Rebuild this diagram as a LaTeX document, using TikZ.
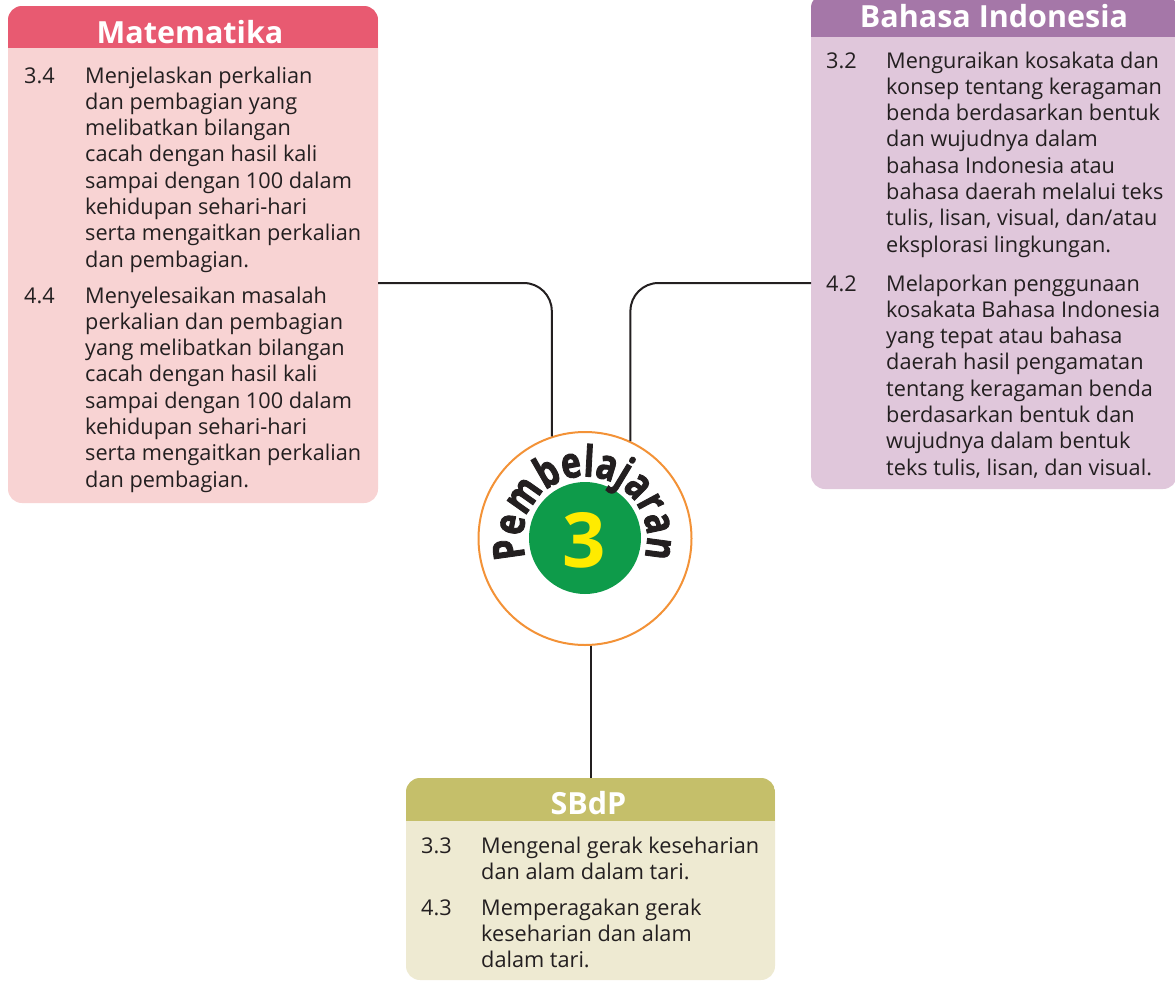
\documentclass[tikz,border=0pt]{standalone}
\usepackage{fontspec}
\setmainfont{Open Sans}
\newfontfamily\circfont[FakeStretch=0.78,FakeBold=2]{Open Sans}
\usetikzlibrary{decorations.text}
\definecolor{matH}{RGB}{232,90,113}
\definecolor{matB}{RGB}{248,211,211}
\definecolor{biH}{RGB}{165,119,168}
\definecolor{biB}{RGB}{224,199,219}
\definecolor{sbH}{RGB}{197,191,106}
\definecolor{sbB}{RGB}{238,234,210}
\definecolor{ringC}{RGB}{243,146,55}
\definecolor{greenC}{RGB}{14,155,74}
\definecolor{yellowC}{RGB}{255,235,0}
\definecolor{inkC}{RGB}{35,31,32}
\newcommand{\kdlines}[1]{\parbox[t]{420pt}{\raggedright\fontsize{21.7}{26.3}\selectfont #1}}
\begin{document}
\begin{tikzpicture}[x=1pt,y=-1pt,
  box/.style={draw=none,rounded corners=14pt,inner sep=0pt,outer sep=0pt},
  title/.style={anchor=base,text=white,inner sep=0pt,font=\bfseries\fontsize{30.5}{31}\selectfont},
  num/.style={anchor=base west,inner sep=0pt,text=inkC,font=\fontsize{21.7}{26.3}\selectfont},
  txt/.style={anchor=base west,inner sep=0pt,text=inkC},
  conn/.style={draw=inkC,line width=2pt,rounded corners=28pt}]
\useasboundingbox (0,0) rectangle (1175,980);

% Matematika
\node[box,fill=matB,minimum width=370pt,minimum height=497pt] (mat) at (193,254.5) {};
\begin{scope}
  \clip[rounded corners=14pt] (mat.north west) rectangle (mat.south east);
  \fill[matH] (mat.north west) rectangle ([shift={(0,42)}]mat.north east);
\end{scope}
\node[title] (matT) at ([shift={(-3,37)}]mat.north) {Matematika};
\node[num] (m34n) at (24,83) {3.4};
\node[txt] (m34) at (85,83) {\kdlines{Menjelaskan perkalian\\dan pembagian yang\\melibatkan bilangan\\cacah dengan hasil kali\\sampai dengan 100 dalam\\kehidupan sehari-hari\\serta mengaitkan perkalian\\dan pembagian.}};
\node[num] (m44n) at (24,303) {4.4};
\node[txt] (m44) at (85,303) {\kdlines{Menyelesaikan masalah\\perkalian dan pembagian\\yang melibatkan bilangan\\cacah dengan hasil kali\\sampai dengan 100 dalam\\kehidupan sehari-hari\\serta mengaitkan perkalian\\dan pembagian.}};

% Bahasa Indonesia
\node[box,fill=biB,minimum width=366pt,minimum height=495pt] (bi) at (994,241.5) {};
\begin{scope}
  \clip[rounded corners=14pt] (bi.north west) rectangle (bi.south east);
  \fill[biH] (bi.north west) rectangle ([shift={(0,43)}]bi.north east);
\end{scope}
\node[title] (biT) at ([shift={(0,33)}]bi.north) {Bahasa Indonesia};
\node[num] (b32n) at (826,68) {3.2};
\node[txt] (b32) at (886,68) {\kdlines{Menguraikan kosakata dan\\konsep tentang keragaman\\benda berdasarkan bentuk\\dan wujudnya dalam\\bahasa Indonesia atau\\bahasa daerah melalui teks\\tulis, lisan, visual, dan/atau\\eksplorasi lingkungan.}};
\node[num] (b42n) at (826,291) {4.2};
\node[txt] (b42) at (886,291) {\kdlines{Melaporkan penggunaan\\kosakata Bahasa Indonesia\\yang tepat atau bahasa\\daerah hasil pengamatan\\tentang keragaman benda\\berdasarkan bentuk dan\\wujudnya dalam bentuk\\teks tulis, lisan, dan visual.}};

% SBdP
\node[box,fill=sbB,minimum width=369pt,minimum height=202pt] (sb) at (590.5,879) {};
\begin{scope}
  \clip[rounded corners=14pt] (sb.north west) rectangle (sb.south east);
  \fill[sbH] (sb.north west) rectangle ([shift={(0,43)}]sb.north east);
\end{scope}
\node[title] (sbT) at ([shift={(-2,36)}]sb.north) {SBdP};
\node[num] (s33n) at (421,853) {3.3};
\node[txt] (s33) at (481,853) {\kdlines{Mengenal gerak keseharian\\dan alam dalam tari.}};
\node[num] (s43n) at (421,915) {4.3};
\node[txt] (s43) at (481,915) {\kdlines{Memperagakan gerak\\keseharian dan alam\\dalam tari.}};

% Centre
\node[circle,draw=ringC,line width=2pt,fill=white,minimum size=213pt,inner sep=0pt] (circ) at (585,538.5) {};
\node[circle,fill=greenC,minimum size=112pt,inner sep=0pt] (grn) at (585,538) {};
\node[text=yellowC,inner sep=0pt,font=\bfseries\fontsize{76}{76}\selectfont] (three) at (584,540) {3};
\begin{scope}[shift={(circ.center)},y=1pt]
  \path[decorate,
    decoration={text effects along path,text={Pembelajaran},text align=center,
      text effects/.cd,text along path,
      characters={inner sep=0pt,text=inkC,font=\circfont\bfseries\fontsize{43}{43}\selectfont}}]
    (216:62pt) arc[start angle=216,end angle=-36,radius=62pt];
\end{scope}

% Connectors
\draw[conn] ([shift={(0,28.5)}]mat.east) -| (circ.108.5);
\draw[conn] ([shift={(0,41.5)}]bi.west) -| (circ.65.7);
\draw[conn] (sb.north) -- (sb.north |- circ.south);
\end{tikzpicture}
\end{document}
